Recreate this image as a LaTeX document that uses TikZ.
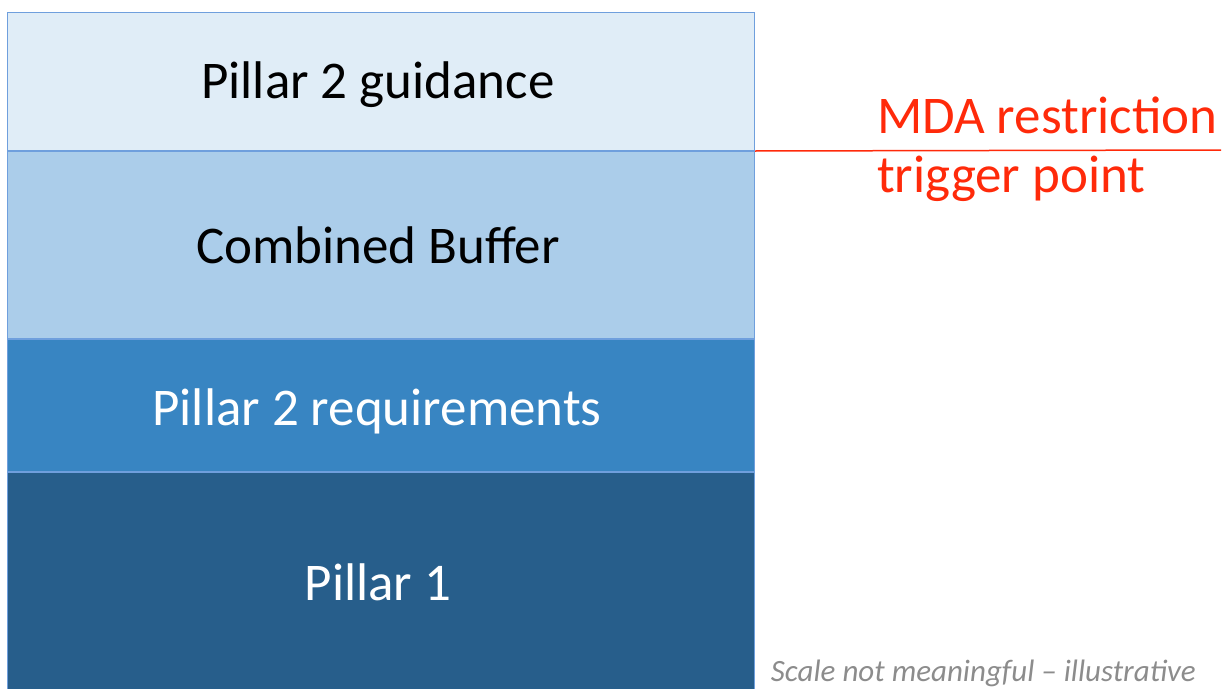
\documentclass[tikz,border=0pt]{standalone}
\usepackage{fontspec}
\setmainfont{Carlito}
\definecolor{guidecol}{HTML}{E0EDF7}
\definecolor{buffercol}{HTML}{ABCDEA}
\definecolor{reqcol}{HTML}{3885C2}
\definecolor{pillcol}{HTML}{275E8B}
\definecolor{edgecol}{HTML}{6F9FDD}
\definecolor{trigcol}{HTML}{FF2A0A}
\definecolor{notecol}{HTML}{8C8C8C}
\tikzset{
  layer/.style={rectangle, draw=edgecol, line width=1pt, inner sep=0pt, anchor=north west,
    minimum width=747pt},
  layertxt/.style={anchor=base, inner sep=0pt, font=\fontsize{53}{60}\selectfont},
}
\begin{document}
\begin{tikzpicture}[x=1pt, y=-1pt]
        \useasboundingbox (0,0) rectangle (1228,688);
        % Capital stack, top to bottom
        \node[layer, fill=guidecol, minimum height=138pt] (guide) at (7,12) {};
        \node[layer, fill=buffercol, minimum height=187pt] (buffer) at (guide.south west) {};
        \node[layer, fill=reqcol, minimum height=132pt] (req) at (buffer.south west) {};
        \node[layer, fill=pillcol, minimum height=220pt] (pill) at (req.south west) {};
        % Labels in the layers
        \node[layertxt] (guidetxt) at (378,98) {Pillar 2 guidance};
        \node[layertxt] (buffertxt) at (378,263) {Combined Buffer};
        \node[layertxt, text=white] (reqtxt) at (377,425) {Pillar 2 requirements};
        \node[layertxt, text=white] (pilltxt) at (378,600) {Pillar 1};
        % Trigger line and its label
        \coordinate (trigend) at (1221,150);
        \draw[trigcol, line width=1.5pt] (guide.south east) -- (trigend);
        \node[layertxt, anchor=base west, text=trigcol] (trigtop) at (877,133) {MDA restriction};
        \node[layertxt, anchor=base west, text=trigcol] (trigbot) at (877,192) {trigger point};
        % Footnote
        \node[anchor=base east, inner sep=0pt, text=notecol, font=\fontsize{31}{34}\selectfont\itshape] (note) at (1196,681) {Scale not meaningful -- illustrative};
    \end{tikzpicture}
\end{document}
